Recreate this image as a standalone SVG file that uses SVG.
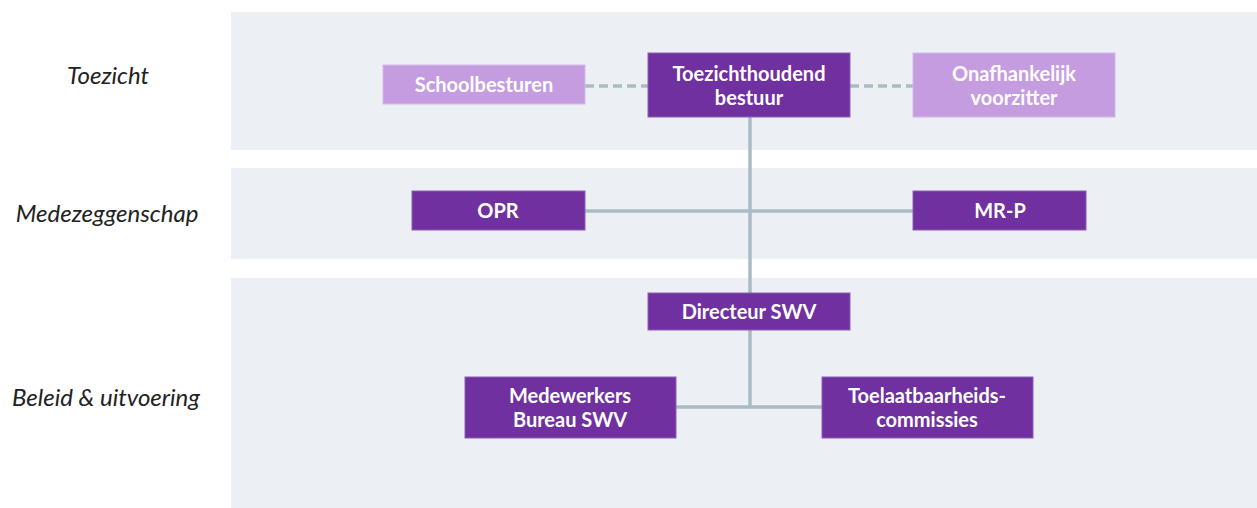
<svg xmlns="http://www.w3.org/2000/svg" width="1257" height="508" viewBox="0 0 1257 508">
<style>
.band{fill:#eceff3}
.lbl{font-family:Lato,"Liberation Sans",sans-serif;font-style:italic;font-size:24px;fill:#222;text-anchor:middle}
.dark{fill:#7030a0;stroke:#8e5cb8;stroke-width:1}
.light{fill:#c59ce0;stroke:#d6b8ea;stroke-width:1}
.t{font-family:Lato,"Liberation Sans",sans-serif;font-weight:bold;font-size:20px;fill:#fff;text-anchor:middle}
.c{stroke:#a9bcc6;stroke-width:3.5;fill:none}
.d{stroke:#a9bcc6;stroke-width:3.5;fill:none;stroke-dasharray:9 5}
</style>
<g id="bands">
<rect class="band" x="231" y="12" width="1026" height="138"/>
<rect class="band" x="231" y="168" width="1026" height="91"/>
<rect class="band" x="231" y="278" width="1026" height="230"/>
</g>
<g id="labels">
<text class="lbl" x="108" y="84">Toezicht</text>
<text class="lbl" x="107" y="222">Medezeggenschap</text>
<text class="lbl" x="106" y="406">Beleid &amp; uitvoering</text>
</g>
<g id="connectors">
<line class="d" x1="585" y1="86" x2="648" y2="86"/>
<line class="d" x1="850" y1="86" x2="913" y2="86"/>
<line class="c" x1="750" y1="117" x2="750" y2="293"/>
<line class="c" x1="585" y1="211" x2="913" y2="211"/>
<line class="c" x1="750" y1="330" x2="750" y2="407"/>
<line class="c" x1="676" y1="407" x2="822" y2="407"/>
</g>
<g id="n-schoolbesturen">
<rect class="light" x="383" y="65" width="202" height="39"/>
<text class="t" x="484" y="92">Schoolbesturen</text>
</g>
<g id="n-toezichthoudend">
<rect class="dark" x="648" y="53" width="202" height="64"/>
<text class="t" x="749" y="81">Toezichthoudend</text>
<text class="t" x="749" y="105">bestuur</text>
</g>
<g id="n-onafhankelijk">
<rect class="light" x="913" y="53" width="202" height="64"/>
<text class="t" x="1014" y="81">Onafhankelijk</text>
<text class="t" x="1014" y="105">voorzitter</text>
</g>
<g id="n-opr">
<rect class="dark" x="412" y="191" width="173" height="39"/>
<text class="t" x="498" y="218">OPR</text>
</g>
<g id="n-mrp">
<rect class="dark" x="913" y="191" width="173" height="39"/>
<text class="t" x="1000" y="218">MR-P</text>
</g>
<g id="n-directeur">
<rect class="dark" x="648" y="293" width="202" height="37"/>
<text class="t" x="749" y="319">Directeur SWV</text>
</g>
<g id="n-medewerkers">
<rect class="dark" x="465" y="377" width="211" height="61"/>
<text class="t" x="570" y="403">Medewerkers</text>
<text class="t" x="570" y="427">Bureau SWV</text>
</g>
<g id="n-toelaatbaarheid">
<rect class="dark" x="822" y="377" width="211" height="61"/>
<text class="t" x="927" y="403">Toelaatbaarheids-</text>
<text class="t" x="927" y="427">commissies</text>
</g>
</svg>
